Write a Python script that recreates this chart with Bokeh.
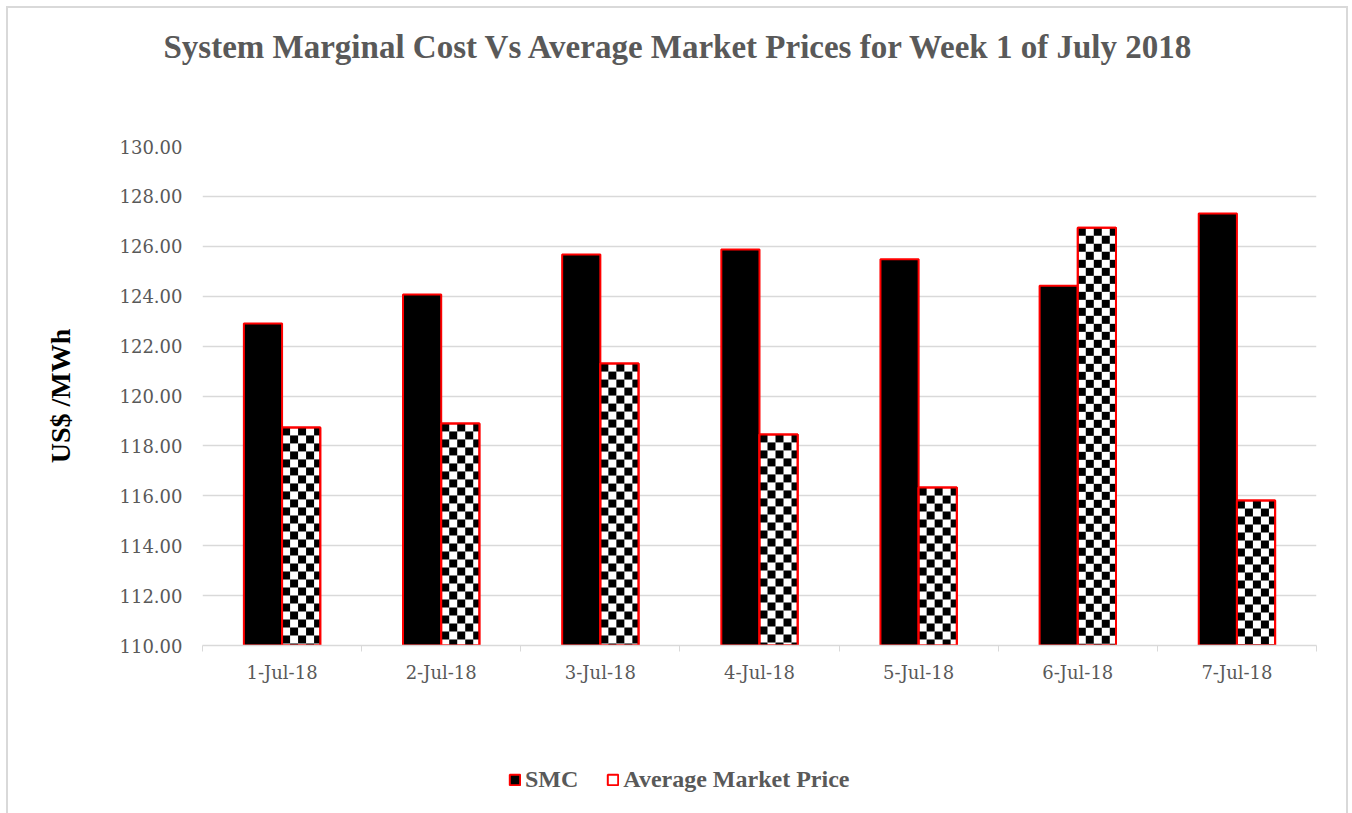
import numpy as np
from bokeh.plotting import figure
from bokeh.layouts import column
from bokeh.models import (FixedTicker, Legend, LegendItem, Title,
                          NumeralTickFormatter, Range1d)
from bokeh.embed import file_html
from bokeh.resources import INLINE

# ---- data ----
categories = ["1-Jul-18", "2-Jul-18", "3-Jul-18", "4-Jul-18",
              "5-Jul-18", "6-Jul-18", "7-Jul-18"]
smc = [122.91, 124.07, 125.67, 125.87, 125.48, 124.42, 127.31]
avg_market_price = [118.74, 118.90, 121.30, 118.46, 116.33, 126.74, 115.81]
y_ticks = [110, 112, 114, 116, 118, 120, 122, 124, 126, 128, 130]
title_text = "System Marginal Cost Vs Average Market Prices for Week 1 of July 2018"
series_names = ["SMC", "Average Market Price"]

# ---- layout constants ----
W = 1338
BL, BR = 194, 30
BAR_W = 0.24
Y0, Y1 = 110, 130
frame_w_px = 1114
frame_h_px = 499
sq_x = 8 / (frame_w_px / 7)          # checker square width in data units
sq_y = 8 / (frame_h_px / (Y1 - Y0))  # checker square height in data units
label_color = "#595959"
red = "#ff0000"

centers = np.arange(len(categories)) + 0.5

# ---------------- title strip ----------------
tf = figure(width=W, height=94, output_backend="svg", toolbar_location=None,
            x_range=Range1d(0, 1), y_range=Range1d(0, 1),
            x_axis_type=None, y_axis_type=None,
            min_border_left=BL, min_border_right=BR,
            min_border_top=0, min_border_bottom=0)
tf.outline_line_color = None
tf.add_layout(Title(text=title_text, align="left", offset=-39,
                    vertical_align="middle", standoff=38,
                    text_font="Liberation Serif", text_font_style="bold",
                    text_font_size="33px", text_color=label_color), "above")

# ---------------- main chart ----------------
p = figure(width=W, height=640, output_backend="svg", toolbar_location=None,
           x_range=Range1d(0, 7), y_range=Range1d(Y0, Y1),
           min_border_left=BL, min_border_right=BR,
           min_border_top=44, min_border_bottom=97)
p.outline_line_color = None

p.quad(left=centers - BAR_W, right=centers, bottom=Y0, top=smc,
       fill_color="black", line_color=red, line_width=2)
p.quad(left=centers, right=centers + BAR_W, bottom=Y0, top=avg_market_price,
       fill_color="white", line_color=red, line_width=2)

ql, qr, qb, qt = [], [], [], []
for c, v in zip(centers, avg_market_price):
    nrows = int(np.ceil((v - Y0) / sq_y))
    ncols = int(np.ceil(BAR_W / sq_x))
    for r in range(nrows):
        for k in range(ncols):
            if (r + k) % 2 == 1:
                continue
            l = c + k * sq_x
            rr = min(c + (k + 1) * sq_x, c + BAR_W)
            t = v - r * sq_y
            b = max(v - (r + 1) * sq_y, Y0)
            ql.append(l); qr.append(rr); qb.append(b); qt.append(t)
p.quad(left=ql, right=qr, bottom=qb, top=qt, fill_color="black", line_color=None)
p.quad(left=centers, right=centers + BAR_W, bottom=Y0, top=avg_market_price,
       fill_color=None, line_color=red, line_width=2)

xt = FixedTicker(ticks=list(centers), minor_ticks=list(range(8)))
p.xaxis.ticker = xt
p.xaxis.major_label_overrides = {float(c): lab for c, lab in zip(centers, categories)}
p.xaxis.major_tick_line_color = None
p.xaxis.minor_tick_line_color = "#d9d9d9"
p.xaxis.minor_tick_in = 0
p.xaxis.minor_tick_out = 6
p.xaxis.axis_line_color = "#d9d9d9"
p.xaxis.axis_line_width = 1.5
p.xaxis.major_label_text_font = "DejaVu Serif"
p.xaxis.major_label_text_font_size = "18px"
p.xaxis.major_label_text_color = label_color
p.xaxis.major_label_standoff = 10

yt = FixedTicker(ticks=y_ticks)
p.yaxis.ticker = yt
p.yaxis.formatter = NumeralTickFormatter(format="0.00")
p.yaxis.axis_line_color = None
p.yaxis.major_tick_line_color = None
p.yaxis.minor_tick_line_color = None
p.yaxis.major_tick_out = 0
p.yaxis.major_label_standoff = 20
p.yaxis.major_label_text_font = "DejaVu Serif"
p.yaxis.major_label_text_font_size = "18px"
p.yaxis.major_label_text_color = label_color
p.yaxis.axis_label = "US$ /MWh"
p.yaxis.axis_label_text_font = "Liberation Serif"
p.yaxis.axis_label_text_font_style = "bold"
p.yaxis.axis_label_text_font_size = "28px"
p.yaxis.axis_label_text_color = "black"
p.yaxis.axis_label_standoff = 41

p.xgrid.visible = False
p.ygrid.ticker = yt
p.ygrid.grid_line_color = "#d9d9d9"
p.ygrid.grid_line_width = 1.5

# ---------------- legend strip ----------------
lf = figure(width=W, height=71, output_backend="svg", toolbar_location=None,
            x_range=Range1d(0, 1), y_range=Range1d(0, 1),
            x_axis_type=None, y_axis_type=None,
            min_border_left=BL, min_border_right=BR,
            min_border_top=0, min_border_bottom=0)
lf.outline_line_color = None
# off-range single items: only their legend swatches are visible
r_smc = lf.quad(left=[5], right=[6], bottom=[5], top=[6],
                fill_color="black", line_color=red, line_width=2)
r_amp = lf.quad(left=[5], right=[6], bottom=[5], top=[6],
                fill_color="white", line_color=red, line_width=2)
legend = Legend(items=[LegendItem(label=series_names[0], renderers=[r_smc]),
                       LegendItem(label=series_names[1], renderers=[r_amp])],
                location=(306, 20), orientation="horizontal",
                label_text_font="Liberation Serif", label_text_font_style="bold",
                label_text_font_size="24px", label_text_color=label_color,
                glyph_width=13, glyph_height=13, label_standoff=4, spacing=28,
                padding=0, margin=0, border_line_color=None,
                background_fill_alpha=0)
lf.add_layout(legend)

layout = column(tf, p, lf, spacing=0)
layout.styles = {"margin": "6px 0 0 6px",
                 "border-top": "2px solid #d9d9d9",
                 "border-left": "2px solid #d9d9d9",
                 "border-right": "2px solid #d9d9d9"}

open("out.html", "w").write(file_html(layout, INLINE))
